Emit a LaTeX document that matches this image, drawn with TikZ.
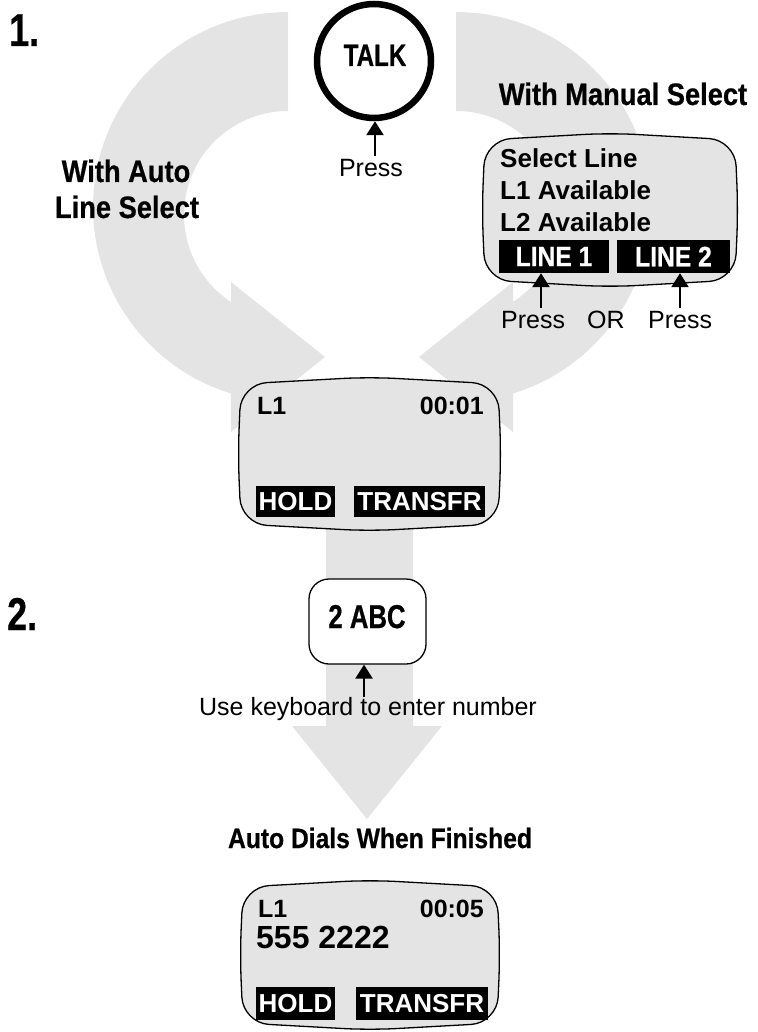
\documentclass[tikz,border=0pt]{standalone}
\usepackage{fontspec}
\setmainfont{Liberation Sans}
\newfontfamily\condf{Liberation Sans}[FakeStretch=0.88, FakeBold=0.6]
\newfontfamily\condn{Liberation Sans}[FakeStretch=0.78, FakeBold=0.6]
\usetikzlibrary{arrows.meta,shapes.geometric,calc}
\definecolor{lgray}{RGB}{228,228,228}
\newcommand\dispshape[4]{%
  \pgfmathsetmacro\dxm{(#1+#3)/2}\pgfmathsetmacro\dym{(#2+#4)/2}%
  \path[disp] (\dxm,#2) -- (#3-3,#2+7) -- (#3,\dym) -- (#3-3,#4-7) -- (\dxm,#4)
     -- (#1+3,#4-7) -- (#1,\dym) -- (#1+3,#2+7) -- cycle;}
\begin{document}
\begin{tikzpicture}[x=1pt,y=-1pt,
  cb/.style={font=\condf\bfseries\fontsize{31}{34}\selectfont, inner sep=0pt},
  cn/.style={font=\condn\bfseries\fontsize{31}{34}\selectfont, inner sep=0pt},
  lt/.style={font=\fontsize{25}{28}\selectfont, inner sep=0pt},
  dt/.style={font=\bfseries\fontsize{26}{30}\selectfont, inner sep=0pt},
  btn/.style={fill=black, text=white, inner sep=0pt},
  parrow/.style={line width=2.5pt, -{Triangle[length=14pt,width=17pt]}},
  disp/.style={draw=black, line width=1.3pt, fill=lgray, rounded corners=26pt}
]
\useasboundingbox (0,0) rectangle (757,1032);

% big gray curved arrows
\foreach \s/\o in {1/0,-1/744} {
  \fill[lgray] ({\o+(\s)*288},12)
    -- plot[domain=270:107,samples=90] ({\o+(\s)*(288+195*cos(\x))},{207+195*sin(\x)})
    -- ({\o+(\s)*231},432) -- ({\o+(\s)*325},357) -- ({\o+(\s)*231},282) -- ({\o+(\s)*231},302)
    -- plot[domain=123.2:270,samples=90] ({\o+(\s)*(288+104*cos(\x))},{215+104*sin(\x)})
    -- cycle;
}
% big gray down arrow
\fill[lgray] (326,520) -- (413,520) -- (413,726) -- (442,726) -- (367,819) -- (292,726) -- (326,726) -- cycle;

% step labels
\node[cn, font=\condn\bfseries\fontsize{46}{50}\selectfont, anchor=base west] (stepone) at (9,46) {1.};
\node[cn, font=\condn\bfseries\fontsize{46}{50}\selectfont, anchor=base west] (steptwo) at (7,630) {2.};

% TALK key
\node[draw, circle, line width=6.5pt, minimum size=114pt, inner sep=0pt] (talk) at (374,61) {};
\node[cn, anchor=base] (talklbl) at (375,66) {TALK};
\node[lt, anchor=base] (presstalk) at (371,177) {Press};
\coordinate (tb) at (375,156);
\draw[parrow] (tb) -- (tb |- talk.south);

% side labels
\node[cb, anchor=base] (manual) at (623,105) {With Manual Select};
\node[cb, anchor=base] (autoa) at (126,182) {With Auto};
\node[cb, anchor=base] (autob) at (127,218) {Line Select};

% select line display
\dispshape{482}{133}{738}{287}
\node[dt, anchor=base west] (sl) at (500,168) {Select Line};
\node[dt, anchor=base west] (la) at (500,200) {L1 Available};
\node[dt, anchor=base west] (lb) at (500,232) {L2 Available};
\node[btn, font=\condf\bfseries\fontsize{28}{32}\selectfont, minimum width=110pt, minimum height=33pt] (lineone) at (554,256.5) {LINE 1};
\node[btn, font=\condf\bfseries\fontsize{28}{32}\selectfont, minimum width=113pt, minimum height=33pt] (linetwo) at (673.5,256.5) {LINE 2};
\node[lt, anchor=base west] (pressa) at (501,328) {Press};
\node[lt, anchor=base west] (orlbl) at (587,328) {OR};
\node[lt, anchor=base west] (pressb) at (648,328) {Press};
\coordinate (aa) at (541,308);
\coordinate (ab) at (680,308);
\draw[parrow] (aa) -- (aa |- lineone.south);
\draw[parrow] (ab) -- (ab |- linetwo.south);

% call display
\dispshape{238}{377}{501}{531}
\node[dt, font=\bfseries\fontsize{25}{28}\selectfont, anchor=base west] (lone) at (257,414) {L1};
\node[dt, font=\bfseries\fontsize{25}{28}\selectfont, anchor=base east] (tone) at (484,414) {00:01};
\node[btn, font=\bfseries\fontsize{26}{30}\selectfont, minimum width=79pt, minimum height=31pt] (holda) at (295.5,501.5) {HOLD};
\node[btn, font=\bfseries\fontsize{26}{30}\selectfont, minimum width=131pt, minimum height=31pt] (transa) at (419.5,501.5) {TRANSFR};

% 2 ABC key
\node[draw, fill=white, rounded corners=20pt, line width=1.3pt, minimum width=117pt, minimum height=85pt, inner sep=0pt] (abc) at (367.5,621.5) {};
\node[cn, font=\condn\bfseries\fontsize{33}{36}\selectfont, anchor=base] (abclbl) at (367,628) {2 ABC};
\coordinate (kb) at (364,697);
\draw[parrow] (kb) -- (kb |- abc.south);
\node[lt, anchor=base] (kbd) at (368,715) {Use keyboard to enter number};

\node[cb, font=\condf\bfseries\fontsize{28}{32}\selectfont, anchor=base] (autodial) at (380,848) {Auto Dials When Finished};

% dialled display
\dispshape{240}{880}{500}{1030}
\node[dt, font=\bfseries\fontsize{25}{28}\selectfont, anchor=base west] (ltwo) at (258,917) {L1};
\node[dt, font=\bfseries\fontsize{25}{28}\selectfont, anchor=base east] (ttwo) at (484,917) {00:05};
\node[dt, font=\bfseries\fontsize{32}{36}\selectfont, anchor=base west] (num) at (256,948) {555 2222};
\node[btn, font=\bfseries\fontsize{26}{30}\selectfont, minimum width=79pt, minimum height=33pt] (holdb) at (295.5,1003.5) {HOLD};
\node[btn, font=\bfseries\fontsize{26}{30}\selectfont, minimum width=132pt, minimum height=33pt] (transb) at (422,1003.5) {TRANSFR};
\end{tikzpicture}
\end{document}
